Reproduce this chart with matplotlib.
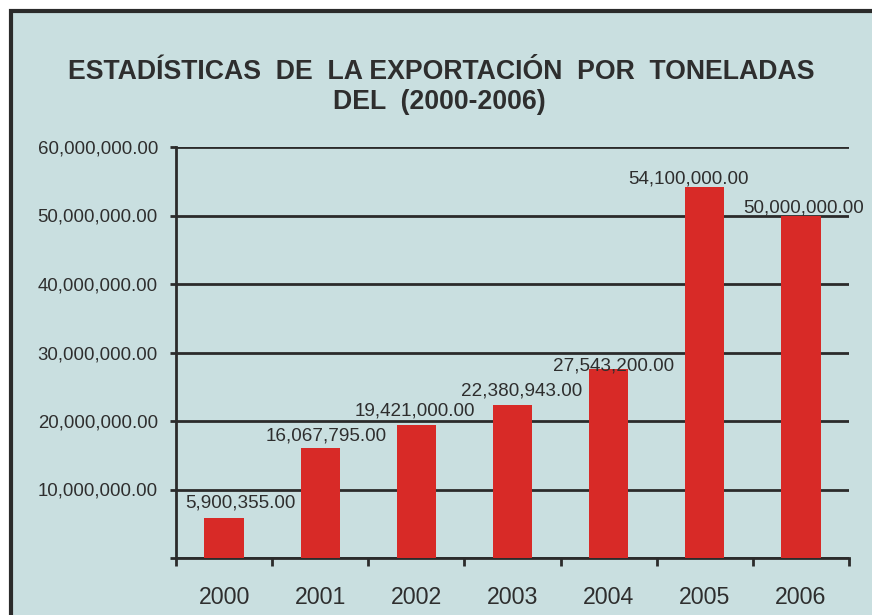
import matplotlib
matplotlib.use('Agg')
import matplotlib.pyplot as plt
from matplotlib.patches import Rectangle
from matplotlib.ticker import FixedLocator, NullFormatter

years = ["2000", "2001", "2002", "2003", "2004", "2005", "2006"]
toneladas = [5900355.00, 16067795.00, 19421000.00, 22380943.00,
             27543200.00, 54100000.00, 50000000.00]
etiquetas = ["5,900,355.00", "16,067,795.00", "19,421,000.00", "22,380,943.00",
             "27,543,200.00", "54,100,000.00", "50,000,000.00"]
yticks = [0, 10000000, 20000000, 30000000, 40000000, 50000000, 60000000]
ytick_labels = ["", "10,000,000.00", "20,000,000.00", "30,000,000.00",
                "40,000,000.00", "50,000,000.00", "60,000,000.00"]

# hand placed label offsets (points), as in the original
lab_dx = [11.5, 4.3, -1.4, 6.5, 3.6, -11.5, 2.2]
lab_dy = [7, 5, 6.5, 6.5, -1, 3, 2]

bg = '#c9dfe0'
bar_col = '#d82a27'
txt = '#2e2e2e'
line = '#2b2b2b'

plt.rcParams['font.family'] = ['Liberation Sans', 'DejaVu Sans']

fig = plt.figure(figsize=(8.72, 6.15), dpi=100, facecolor='white')
W, H = 872.0, 615.0
fig.patches.append(Rectangle((10.5 / W, -0.1), 1.2, 1 - 10.5 / H + 0.1,
                             transform=fig.transFigure, facecolor=bg,
                             edgecolor=line, linewidth=3, zorder=-5))

ax = fig.add_axes([176 / W, 1 - 558 / H, (849 - 176) / W, (558 - 147) / H])
ax.set_facecolor('none')
ax.set_zorder(2)

x = list(range(len(years)))
ax.bar(x, toneladas, width=0.41, color=bar_col, zorder=3)

for i, (v, s) in enumerate(zip(toneladas, etiquetas)):
    ax.annotate(s, (i, v), xytext=(lab_dx[i], lab_dy[i]), textcoords='offset points',
                ha='center', va='baseline', fontsize=13.6, color=txt, zorder=4)

ax.set_xlim(-0.5, len(years) - 0.5)
ax.set_ylim(0, 60000000)

ax.set_yticks(yticks)
ax.set_yticklabels(ytick_labels)
ax.yaxis.grid(True, color=line, linewidth=2)
ax.set_axisbelow(True)

ax.set_xticks(x)
ax.set_xticklabels(years)
ax.xaxis.set_minor_locator(FixedLocator([i - 0.5 for i in range(len(years) + 1)]))
ax.xaxis.set_minor_formatter(NullFormatter())
ax.tick_params(axis='x', which='major', length=0, pad=20.5, labelsize=16.7, labelcolor=txt)
ax.tick_params(axis='x', which='minor', length=6, width=2, color=line, direction='out')
ax.tick_params(axis='y', length=4.5, width=2, color=line, pad=8.5, labelsize=13.4, labelcolor=txt)

for side in ['top', 'right']:
    ax.spines[side].set_visible(False)
for side in ['left', 'bottom']:
    ax.spines[side].set_color(line)
    ax.spines[side].set_linewidth(2)

fig.text(441 / W, 1 - 72 / H, "ESTADÍSTICAS  DE  LA EXPORTACIÓN  POR  TONELADAS",
         ha='center', va='center', fontsize=19.2, fontweight='bold', color=txt)
fig.text(439 / W, 1 - 102 / H, "DEL  (2000-2006)",
         ha='center', va='center', fontsize=19.2, fontweight='bold', color=txt)

plt.savefig("out.png", dpi=100, facecolor=fig.get_facecolor())
